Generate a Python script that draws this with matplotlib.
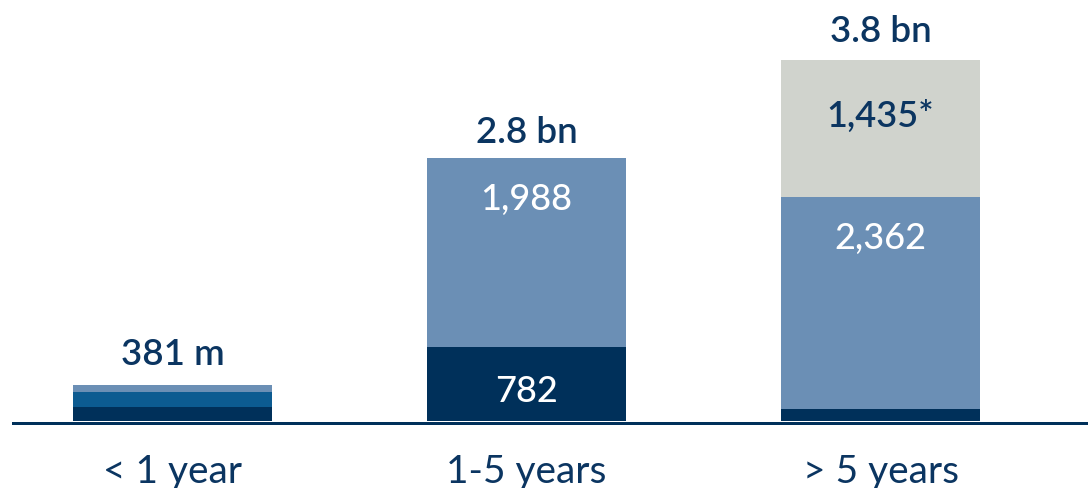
import matplotlib
matplotlib.use("Agg")
import matplotlib.pyplot as plt

categories = ["< 1 year", "1-5 years", "> 5 years"]
totals = ["381 m", "2.8 bn", "3.8 bn"]

# stacked segments, bottom to top (EUR m)
dark = [143, 782, 125]
medium = [162, 0, 0]
light = [76, 1988, 2237]
gray = [0, 0, 1435]

dark_labels = ["", "782", ""]
light_labels = ["", "1,988", "2,362"]
gray_labels = ["", "", "1,435*"]

NAVY = "#00305a"
MID = "#0c5b91"
LIGHT = "#6b8fb5"
GRAY = "#d0d3cd"
TEXT = "#0b3561"

plt.rcParams['font.family'] = ['Lato', 'DejaVu Sans']

fig = plt.figure(figsize=(10.88, 4.88), dpi=100)
px = 72 / 100  # points per pixel
scale = 0.095  # pixels per unit
bottom_px = 430
ax = fig.add_axes([12 / 1088, (488 - bottom_px) / 488, 1 - 12 / 1088, bottom_px / 488])
ax.set_xlim(-0.453, 2.586)
ax.set_ylim(-9 / scale, 421 / scale)
ax.axis("off")

x = range(len(categories))
width = 0.562
b0 = [0] * 3
b1 = [d for d in dark]
b2 = [d + m for d, m in zip(dark, medium)]
b3 = [d + m + l for d, m, l in zip(dark, medium, light)]

ax.bar(x, dark, width, bottom=b0, color=NAVY, zorder=2)
ax.bar(x, medium, width, bottom=b1, color=MID, zorder=2)
ax.bar(x, light, width, bottom=b2, color=LIGHT, zorder=2)
ax.bar(x, gray, width, bottom=b3, color=GRAY, zorder=2)

ax.axhline(-2.2 / scale, color=NAVY, lw=3 * px, zorder=1)

tops = [a + b for a, b in zip(b3, gray)]
offsets = [20, 15, 18]
for i in x:
    ax.annotate(totals[i], xy=(i, tops[i]), xytext=(0, offsets[i] * px),
                textcoords="offset points", ha="center", va="baseline",
                fontsize=26.5, fontweight="semibold", color=TEXT)
    ax.annotate(categories[i], xy=(i, 0), xytext=(0, -62 * px),
                textcoords="offset points", ha="center", va="baseline",
                fontsize=28, color=TEXT)
    if dark_labels[i]:
        ax.annotate(dark_labels[i], xy=(i, b1[i]), xytext=(0, -55 * px),
                    textcoords="offset points", ha="center", va="baseline",
                    fontsize=26, fontweight="medium", color="white", zorder=3)
    if light_labels[i]:
        ax.annotate(light_labels[i], xy=(i, b3[i]), xytext=(0, -52 * px),
                    textcoords="offset points", ha="center", va="baseline",
                    fontsize=26, fontweight="medium", color="white", zorder=3)
    if gray_labels[i]:
        ax.annotate(gray_labels[i], xy=(i, tops[i]), xytext=(0, -67 * px),
                    textcoords="offset points", ha="center", va="baseline",
                    fontsize=26, fontweight="semibold", color=TEXT, zorder=3)

fig.savefig("out.png", dpi=100)
